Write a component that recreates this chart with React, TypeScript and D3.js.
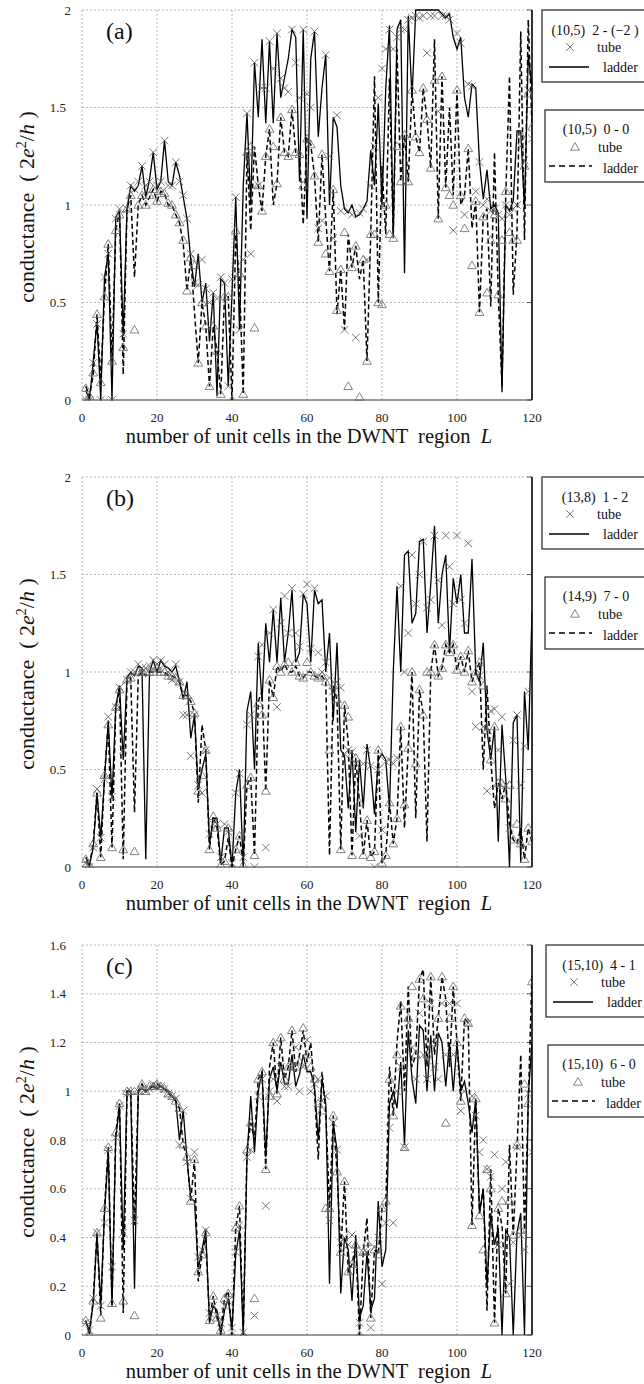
import React from 'react';
import * as d3 from 'd3';

// ---------- data ----------
const cells = d3.range(1, 121); // L = 1..120
const xTicks = [0, 20, 40, 60, 80, 100, 120];
const yTicksAB = [0, 0.5, 1, 1.5, 2];
const yTicksC = [0, 0.2, 0.4, 0.6, 0.8, 1, 1.2, 1.4, 1.6];
const panelLabels = ['(a)', '(b)', '(c)'];
const legendTitles = [
  ['(10,5)  2 - (\u22122 )', '(10,5)  0 - 0'],
  ['(13,8)  1 - 2', '(14,9)  7 - 0'],
  ['(15,10)  4 - 1', '(15,10)  6 - 0'],
];

// panel (a)
const aLadderSolid = [
  0.05, 0.0, 0.2, 0.4, 0.0, 0.63, 0.75, 0.0, 0.94, 0.97,
  0.33, 0.98, 1.1, 1.07, 1.1, 1.2, 1.04, 1.13, 1.27, 1.08,
  1.12, 1.33, 1.12, 1.1, 1.22, 1.15, 1.04, 0.93, 0.72, 0.58,
  0.75, 0.5, 0.6, 0.3, 0.55, 0.02, 0.62, 0.6, 0.07, 0.55,
  1.04, 0.36, 1.1, 1.47, 1.0, 1.73, 1.45, 1.85, 1.42, 1.84,
  1.42, 1.88, 1.55, 1.65, 1.75, 1.9, 1.86, 1.12, 1.9, 0.93,
  1.75, 1.89, 1.35, 1.6, 1.77, 1.0, 1.45, 1.4, 1.1, 0.98,
  0.96, 1.0, 0.94, 0.95, 0.98, 1.02, 1.28, 1.1, 1.52, 1.0,
  1.6, 1.92, 0.83, 1.9, 1.95, 0.65, 1.97, 1.55, 2.0, 2.0,
  2.0, 2.0, 2.0, 2.0, 2.0, 1.98, 1.96, 1.98, 1.86, 1.8,
  1.86, 1.55, 1.45, 1.62, 1.6, 1.22, 1.03, 1.18, 0.98, 1.0,
  0.96, 0.04, 1.0, 0.97, 1.02, 1.38, 1.38, 0.98, 1.77, 1.6,
];
const aTubeCross = [
  0.0, 0.0, 0.19, 0.39, 0.0, 0.63, 0.75, 0.0, 0.93, 0.98,
  0.34, 0.98, 1.1, 1.08, 1.12, 1.2, 1.1, 1.12, 1.27, 1.1,
  1.12, 1.33, 1.1, 1.1, 1.22, 1.12, 1.05, 0.93, 0.75, 0.6,
  0.59, 0.72, 0.57, 0.5, 0.55, 0.52, 0.63, 0.6, 0.07, 0.62,
  1.04, 0.36, 0.72, 1.47, 0.75, 1.73, 1.1, 1.6, 1.6, 1.84,
  1.7, 1.88, 1.65, 1.6, 1.58, 1.9, 1.73, 1.55, 1.9, 1.57,
  1.5, 1.89, 0.88, 0.92, 1.77, 1.25, 0.83, 1.46, 0.97, 0.36,
  0.97, 0.95, 0.32, 0.96, 0.98, 0.72, 1.1, 1.3, 1.55, 1.7,
  1.8, 1.9, 1.8, 1.86, 1.9, 1.9, 1.95, 1.96, 1.97, 1.96,
  1.97, 1.78, 1.97, 1.97, 1.48, 1.97, 1.97, 1.95, 0.87, 1.88,
  1.83, 0.95, 1.62, 1.61, 1.07, 1.22, 1.0, 1.03, 0.97, 0.98,
  0.95, 0.93, 1.0, 0.95, 0.98, 1.0, 1.3, 1.23, 1.59, 1.34,
];
const aLadderDashed = [
  0.07, 0.02, 0.13, 0.44, 0.1, 0.53, 0.8, 0.2, 0.87, 0.97,
  0.13, 0.98, 1.05, 0.63, 1.0, 1.05, 1.0, 1.04, 1.08, 1.02,
  1.07, 1.06, 1.0, 1.0, 0.95, 0.91, 0.8, 0.56, 0.73, 0.45,
  0.19, 0.5, 0.38, 0.07, 0.38, 0.25, 0.03, 0.53, 0.53, 0.0,
  0.85, 0.6, 0.03, 1.27, 0.87, 1.3, 1.1, 0.97, 1.25, 1.39,
  1.0, 1.11, 1.45, 1.27, 1.25, 1.49, 1.27, 1.26, 0.9, 1.34,
  1.31, 1.15, 0.81, 1.26, 0.93, 0.66, 1.08, 0.44, 0.67, 0.36,
  0.85, 0.68, 0.79, 0.62, 0.72, 0.2, 0.85, 1.66, 0.5, 1.2,
  0.85, 1.65, 0.85, 1.8, 1.12, 1.36, 1.12, 1.59, 1.35, 1.27,
  1.6, 1.44, 1.19, 1.85, 0.93, 1.66, 1.09, 1.5, 1.05, 1.59,
  1.0, 1.05, 1.29, 0.88, 1.02, 0.45, 0.94, 0.98, 0.48, 1.27,
  0.54, 0.07, 1.05, 1.66, 0.54, 0.86, 1.89, 0.82, 1.95, 1.4,
];
const aTubeTri = [
  0.06, 0.02, 0.14, 0.44, 0.09, 0.53, 0.8, 0.2, 0.87, 0.95,
  0.27, 0.98, 1.05, 0.36, 1.0, 1.05, 1.0, 1.05, 1.08, 1.02,
  1.07, 1.06, 1.01, 1.0, 0.95, 0.91, 0.82, 0.56, 0.73, 0.69,
  0.19, 0.5, 0.38, 0.07, 0.38, 0.25, 0.03, 0.53, 0.53, 0.0,
  0.87, 0.65, 0.03, 1.27, 1.3, 0.37, 1.1, 0.97, 1.25, 1.39,
  1.3, 1.11, 1.45, 1.27, 1.25, 1.49, 1.27, 1.26, 1.1, 1.34,
  1.31, 1.15, 0.81, 1.26, 0.75, 0.66, 1.08, 0.46, 0.67, 0.86,
  0.07, 0.68, 0.79, 0.015, 0.72, 0.2, 0.85, 0.85, 0.5, 0.49,
  1.0, 0.85, 0.83, 1.3, 1.12, 1.36, 1.12, 1.59, 1.35, 1.27,
  1.6, 1.44, 1.19, 1.64, 0.93, 1.66, 1.09, 1.05, 1.0, 1.59,
  1.05, 0.88, 1.29, 0.69, 1.02, 0.45, 0.94, 0.55, 0.82, 0.95,
  0.54, 0.82, 1.07, 0.86, 0.82, 0.82, 1.36, 1.2, 1.57, 1.4,
];

// panel (b)
const bLadderSolid = [
  0.03, 0.01, 0.1, 0.38, 0.15, 0.45, 0.75, 0.35, 0.82, 0.93,
  0.55, 0.97, 1.0, 0.98, 1.03, 1.02, 0.04, 1.0, 1.06, 1.0,
  1.06, 1.03, 1.02, 1.0, 1.03, 0.95, 0.86, 0.95, 0.66, 0.78,
  0.4, 0.5, 0.58, 0.12, 0.25, 0.25, 0.02, 0.2, 0.2, 0.0,
  0.38, 0.5, 0.0, 0.8, 0.9, 0.5, 1.15, 0.85, 1.25, 1.05,
  1.32, 1.05, 1.38, 1.05, 1.2, 1.42, 1.05, 1.1, 1.4, 1.35,
  1.05, 1.42, 1.35, 1.37, 1.0, 1.2, 0.75, 1.15, 0.6, 0.57,
  0.3, 0.6, 0.18, 0.55, 0.3, 0.63, 0.5, 0.27, 0.55, 0.58,
  0.55, 0.3, 1.0, 1.44, 1.0, 1.6, 1.62, 1.25, 1.3, 1.67,
  1.68, 1.2, 1.45, 1.75, 1.25, 1.5, 1.6, 1.1, 1.48, 1.35,
  1.5, 1.2, 1.2, 1.58, 1.0, 0.95, 1.15, 0.7, 0.55, 0.72,
  0.13, 0.73, 0.45, 0.0, 0.74, 0.78, 0.02, 0.9, 0.6, 1.31,
];
const bTubeCross = [
  0.02, 0.0, 0.1, 0.4, 0.15, 0.45, 0.77, 0.36, 0.82, 0.92,
  0.6, 0.96, 1.0, 1.0, 1.04, 1.02, 1.02, 1.03, 1.06, 1.04,
  1.06, 1.04, 1.0, 0.96, 1.04, 0.95, 0.78, 0.78, 0.57, 0.78,
  0.42, 0.38, 0.6, 0.17, 0.22, 0.22, 0.05, 0.22, 0.18, 0.02,
  0.38, 0.48, 0.05, 0.73, 0.78, 0.0, 1.08, 1.14, 0.1, 1.2,
  1.32, 0.82, 1.25, 1.39, 1.2, 1.43, 1.2, 1.13, 1.4, 1.45,
  1.12, 1.43, 1.1, 1.0, 1.05, 0.97, 0.9, 0.95, 0.92, 0.58,
  0.6, 0.59, 0.53, 0.16, 0.53, 0.6, 0.52, 0.0, 0.5, 0.19,
  0.54, 0.55, 0.53, 0.56, 1.44, 1.0, 1.2, 1.6, 1.35, 1.5,
  1.67, 1.33, 1.37, 1.7, 1.47, 1.24, 1.7, 1.54, 1.35, 1.7,
  1.37, 1.25, 1.66, 0.9, 0.72, 0.98, 0.72, 0.39, 0.8, 0.81,
  0.6, 0.77, 0.42, 0.2, 0.65, 0.78, 0.42, 0.62, 0.9, 0.9,
];
const bLadderDashed = [
  0.05, 0.01, 0.12, 0.38, 0.05, 0.47, 0.73, 0.1, 0.82, 0.91,
  0.04, 0.96, 0.97, 0.28, 0.98, 1.0, 0.98, 1.0, 1.0, 1.0,
  1.0, 1.0, 0.98, 0.98, 0.97, 0.95, 0.88, 0.88, 0.85, 0.79,
  0.33, 0.73, 0.6, 0.09, 0.26, 0.2, 0.01, 0.03, 0.15, 0.0,
  0.09, 0.16, 0.01, 0.42, 0.46, 0.06, 0.85, 0.9, 0.39, 0.96,
  0.87, 1.03, 1.0, 1.04, 1.0, 1.0, 1.03, 0.98, 0.97, 1.0,
  1.0, 0.98, 0.97, 0.98, 0.95, 0.06, 0.93, 0.86, 0.09, 0.83,
  0.64, 0.06, 0.56, 0.33, 0.06, 0.24, 0.05, 0.08, 0.6, 0.02,
  0.06, 0.33, 0.12, 0.25, 0.72, 0.2, 0.61, 1.0, 0.25, 0.91,
  0.78, 0.13, 1.0, 1.14, 0.98, 1.02, 1.14, 1.1, 1.14, 1.01,
  1.08, 1.0, 1.11, 0.95, 1.0, 1.05, 0.5, 0.93, 0.55, 0.3,
  0.43, 0.35, 0.43, 0.22, 0.14, 0.12, 0.2, 0.04, 0.2, 0.13,
];
const bTubeTri = [
  0.04, 0.01, 0.12, 0.38, 0.05, 0.47, 0.73, 0.1, 0.82, 0.91,
  0.09, 0.96, 0.97, 0.08, 1.0, 1.0, 1.0, 1.0, 1.0, 1.02,
  1.0, 1.0, 0.98, 0.98, 0.97, 0.95, 0.88, 0.88, 0.85, 0.79,
  0.39, 0.47, 0.6, 0.09, 0.26, 0.2, 0.01, 0.03, 0.2, 0.0,
  0.09, 0.16, 0.01, 0.42, 0.46, 0.06, 0.84, 0.78, 0.39, 0.96,
  0.87, 1.03, 1.0, 1.04, 1.05, 1.0, 1.05, 0.98, 0.97, 1.05,
  1.0, 0.98, 0.97, 0.98, 0.95, 0.6, 0.93, 0.86, 0.09, 0.83,
  0.77, 0.06, 0.56, 0.33, 0.06, 0.24, 0.05, 0.08, 0.6, 0.02,
  0.06, 0.33, 0.12, 0.25, 0.72, 0.32, 0.61, 1.0, 0.53, 0.91,
  0.78, 1.0, 1.0, 1.14, 0.98, 1.02, 1.14, 1.1, 1.14, 1.01,
  1.08, 1.0, 1.11, 0.95, 1.0, 1.05, 0.93, 0.7, 0.55, 0.72,
  0.43, 0.43, 0.35, 0.42, 0.14, 0.22, 0.12, 0.04, 0.2, 0.13,
];

// panel (c)
const cLadderSolid = [
  0.05, 0.02, 0.13, 0.41, 0.13, 0.5, 0.75, 0.12, 0.81, 0.94,
  0.35, 1.0, 1.0, 0.19, 1.0, 1.01, 1.0, 1.01, 1.02, 1.01,
  1.02, 1.01, 1.0, 0.98, 0.96, 0.8, 0.92, 0.72, 0.56, 0.55,
  0.27, 0.35, 0.43, 0.05, 0.12, 0.1, 0.0, 0.1, 0.15, 0.02,
  0.33, 0.43, 0.0, 0.73, 0.98, 0.75, 1.0, 1.08, 0.73, 1.05,
  1.1, 1.0, 1.12, 1.03, 1.03, 1.15, 1.02, 1.07, 1.15, 1.08,
  1.08, 1.02, 0.8, 1.05, 0.95, 0.21, 0.87, 0.76, 0.17, 0.4,
  0.35, 0.14, 0.41, 0.07, 0.12, 0.34, 0.1, 0.15, 0.55, 0.28,
  0.35, 0.95, 1.0, 0.93, 1.12, 0.78, 1.25, 1.05, 0.95, 1.27,
  1.25, 1.0, 1.23, 1.0, 1.24, 1.2, 1.02, 1.2, 1.0, 1.2,
  1.0, 1.04, 0.95, 0.83, 0.97, 0.5, 0.6, 0.2, 0.5, 0.37,
  0.44, 0.0, 0.43, 0.4, 0.0, 0.42, 0.5, 0.0, 0.98, 1.2,
];
const cTubeCross = [
  0.05, 0.02, 0.15, 0.42, 0.12, 0.46, 0.76, 0.28, 0.81, 0.94,
  0.42, 0.99, 1.0, 0.47, 1.0, 1.01, 1.0, 1.01, 1.03, 1.02,
  1.02, 1.01, 0.99, 0.98, 0.97, 0.78, 0.92, 0.71, 0.56, 0.75,
  0.32, 0.35, 0.43, 0.09, 0.12, 0.08, 0.05, 0.12, 0.14, 0.03,
  0.34, 0.45, 0.01, 0.73, 0.76, 0.08, 0.98, 1.05, 0.53, 1.0,
  1.05, 0.96, 1.1, 1.02, 1.02, 1.1, 1.18, 1.0, 1.1, 1.21,
  1.0, 1.03, 1.05, 0.96, 0.98, 0.47, 0.87, 0.76, 0.38, 0.4,
  0.37, 0.41, 0.35, 0.05, 0.34, 0.34, 0.03, 0.36, 0.4, 0.21,
  0.46, 0.85, 0.46, 1.0, 1.1, 0.77, 1.28, 1.18, 1.05, 1.32,
  1.15, 1.05, 1.36, 1.1, 1.05, 1.36, 1.15, 1.36, 1.15, 1.36,
  0.92, 1.0, 1.28, 0.98, 0.9, 0.75, 0.8, 0.68, 0.65, 0.74,
  0.37, 0.6, 0.71, 0.21, 0.38, 0.77, 0.41, 0.35, 0.99, 0.75,
];
const cLadderDashed = [
  0.06, 0.0, 0.15, 0.42, 0.08, 0.52, 0.77, 0.12, 0.83, 0.95,
  0.09, 1.0, 1.0, 0.45, 1.0, 1.03, 1.0, 1.02, 1.02, 1.03,
  1.02, 1.01, 0.99, 0.98, 0.96, 0.93, 0.78, 0.73, 0.55, 0.72,
  0.22, 0.33, 0.4, 0.06, 0.16, 0.07, 0.02, 0.15, 0.18, 0.0,
  0.44, 0.53, 0.0, 0.76, 0.87, 0.8, 1.05, 1.08, 0.68, 1.1,
  1.2, 0.99, 1.22, 1.05, 1.1, 1.25, 1.08, 1.15, 1.25, 1.12,
  1.2, 1.0, 0.72, 1.08, 0.92, 0.52, 0.9, 0.67, 0.34, 0.63,
  0.26, 0.29, 0.37, 0.0, 0.34, 0.48, 0.07, 0.35, 0.33, 0.52,
  0.53, 1.1, 0.9, 1.2, 1.37, 1.0, 1.43, 1.1, 1.15, 1.46,
  1.5, 1.1, 1.47, 1.15, 1.3, 1.47, 1.38, 1.1, 1.43, 1.2,
  0.96, 1.3, 1.28, 0.45, 0.97, 0.5, 0.6, 0.1, 0.68, 0.05,
  0.52, 0.45, 0.17, 0.78, 0.41, 0.76, 1.15, 0.43, 0.95, 1.48,
];
const cTubeTri = [
  0.06, 0.0, 0.14, 0.42, 0.07, 0.52, 0.77, 0.13, 0.83, 0.95,
  0.14, 1.0, 1.0, 0.08, 1.0, 1.03, 1.0, 1.02, 1.02, 1.03,
  1.02, 1.01, 0.99, 0.98, 0.96, 0.93, 0.78, 0.73, 0.55, 0.72,
  0.26, 0.33, 0.42, 0.06, 0.16, 0.07, 0.02, 0.15, 0.17, 0.0,
  0.44, 0.53, 0.0, 0.76, 0.87, 0.15, 1.05, 1.08, 0.68, 0.98,
  1.2, 0.99, 1.22, 1.05, 1.1, 1.25, 1.1, 1.12, 1.26, 1.15,
  1.1, 1.05, 0.95, 0.92, 0.52, 0.52, 0.9, 0.67, 0.34, 0.63,
  0.26, 0.29, 0.37, 0.0, 0.34, 0.38, 0.07, 0.35, 0.33, 0.52,
  0.55, 1.05, 0.9, 1.15, 1.35, 0.77, 1.3, 1.43, 1.15, 1.46,
  1.38, 1.15, 1.47, 1.2, 1.3, 1.47, 0.87, 1.3, 1.43, 1.2,
  0.96, 1.3, 1.28, 0.45, 0.97, 0.49, 0.35, 0.68, 0.6, 0.05,
  0.52, 0.55, 0.17, 0.55, 0.41, 0.78, 0.43, 1.03, 0.95, 1.45,
];

// ---------- layout ----------
const FONT = '"Liberation Serif", "Times New Roman", "DejaVu Serif", serif';
const LEFT = 82;
const RIGHT = 532;
const PH = 390;

const panels = [
  { top: 10, yMax: 2, yTicks: yTicksAB, solid: aLadderSolid, cross: aTubeCross, dashed: aLadderDashed, tri: aTubeTri, box1x: 542, box2x: 545 },
  { top: 477, yMax: 2, yTicks: yTicksAB, solid: bLadderSolid, cross: bTubeCross, dashed: bLadderDashed, tri: bTubeTri, box1x: 542, box2x: 545 },
  { top: 945, yMax: 1.6, yTicks: yTicksC, solid: cLadderSolid, cross: cTubeCross, dashed: cLadderDashed, tri: cTubeTri, box1x: 546, box2x: 548 },
];

const CROSS = 'M-3.8,-3.8L3.8,3.8M-3.8,3.8L3.8,-3.8';
const TRI = 'M0,-4.4L4.4,3.2L-4.4,3.2Z';

function Panel({ p, idx }: { p: any; idx: number }) {
  const top = p.top;
  const bottom = top + PH;
  const x = d3.scaleLinear().domain([0, 120]).range([LEFT, RIGHT]);
  const y = d3.scaleLinear().domain([0, p.yMax]).range([bottom, top]);
  const line = d3
    .line<number>()
    .x((_d, i) => x(cells[i]))
    .y((d) => y(d));
  const clipId = `clip-${idx}`;
  const b1 = p.box1x;
  const b2 = p.box2x;
  const t2 = top + 100;
  const txt = { fontFamily: FONT };
  return (
    <g style={txt}>
      <defs>
        <clipPath id={clipId}>
          <rect x={LEFT} y={top - 1} width={RIGHT - LEFT} height={PH + 2} />
        </clipPath>
      </defs>
      {/* grid */}
      {xTicks.slice(0, -1).map((t) => (
        <line key={'gx' + t} x1={x(t)} x2={x(t)} y1={top} y2={bottom} stroke="#999" strokeWidth={0.7} strokeDasharray="2,2" />
      ))}
      {p.yTicks.slice(1).map((t: number) => (
        <line key={'gy' + t} x1={LEFT} x2={RIGHT} y1={y(t)} y2={y(t)} stroke="#999" strokeWidth={0.7} strokeDasharray="2,2" />
      ))}
      {/* frame */}
      <line x1={LEFT} x2={RIGHT} y1={bottom} y2={bottom} stroke="#333" strokeWidth={1} />
      <line x1={RIGHT} x2={RIGHT} y1={top} y2={bottom} stroke="#000" strokeWidth={1.6} />
      {p.yTicks.map((t: number) => (
        <line key={'rt' + t} x1={RIGHT - 5} x2={RIGHT} y1={y(t)} y2={y(t)} stroke="#333" strokeWidth={0.8} />
      ))}
      {/* series */}
      <g clipPath={`url(#${clipId})`}>
        <path d={line(p.dashed) || ''} fill="none" stroke="#000" strokeWidth={1.5} strokeDasharray="5,3" />
        <path d={line(p.solid) || ''} fill="none" stroke="#000" strokeWidth={1.3} />
        {p.cross.map((v: number, i: number) => (
          <path key={'x' + i} d={CROSS} transform={`translate(${x(cells[i])},${y(v)})`} fill="none" stroke="#555" strokeWidth={0.8} />
        ))}
        {p.tri.map((v: number, i: number) => (
          <path key={'t' + i} d={TRI} transform={`translate(${x(cells[i])},${y(v)})`} fill="none" stroke="#666" strokeWidth={0.8} />
        ))}
      </g>
      {/* tick labels */}
      {xTicks.map((t) => (
        <text key={'xl' + t} x={x(t)} y={bottom + 22} textAnchor="middle" fontSize={13} fill="#222" style={txt}>
          {t}
        </text>
      ))}
      {p.yTicks.map((t: number) => {
        const s = String(t);
        return (
          <text key={'yl' + t} x={s.includes('.') ? 66 : 71} y={y(t) + 4.5} textAnchor="end" fontSize={13} fill="#222" style={txt}>
            {s}
          </text>
        );
      })}
      {/* axis titles */}
      <text x={(LEFT + RIGHT) / 2 + 2} y={bottom + 43} textAnchor="middle" fontSize={20.5} fill="#111" xmlSpace="preserve" style={txt}>
        number of unit cells in the DWNT  region  <tspan fontStyle="italic">L</tspan>
      </text>
      <text transform={`translate(34,${top + PH / 2 + 2}) rotate(-90)`} textAnchor="middle" fontSize={22} fill="#111" xmlSpace="preserve" style={txt}>
        conductance  ( 2<tspan fontStyle="italic">e</tspan>
        <tspan dy={-8} fontSize={14}>2</tspan>
        <tspan dy={8}>/</tspan>
        <tspan fontStyle="italic">h</tspan> )
      </text>
      {/* panel label */}
      <text x={106} y={top + 29} fontSize={24} fill="#111" style={txt}>
        {panelLabels[idx]}
      </text>
      {/* legend box 1 */}
      <rect x={b1} y={top} width={130} height={72} fill="#fff" stroke="#333" strokeWidth={1.3} />
      <text x={b1 + 53} y={top + 25} textAnchor="middle" fontSize={14} fill="#111" xmlSpace="preserve" style={txt}>
        {legendTitles[idx][0]}
      </text>
      <path d={CROSS} transform={`translate(${b1 + 28},${top + 37})`} fill="none" stroke="#555" strokeWidth={0.8} />
      <text x={b1 + 55} y={top + 42} fontSize={14} fill="#111" style={txt}>tube</text>
      <line x1={b1 + 7} x2={b1 + 47} y1={top + 57} y2={top + 57} stroke="#000" strokeWidth={1.3} />
      <text x={b1 + 61} y={top + 62} fontSize={14} fill="#111" style={txt}>ladder</text>
      {/* legend box 2 */}
      <rect x={b2} y={t2} width={130} height={72} fill="#fff" stroke="#333" strokeWidth={1.3} />
      <text x={b2 + 51} y={t2 + 24} textAnchor="middle" fontSize={14} fill="#111" xmlSpace="preserve" style={txt}>
        {legendTitles[idx][1]}
      </text>
      <path d={TRI} transform={`translate(${b2 + 30},${t2 + 37})`} fill="none" stroke="#666" strokeWidth={0.8} />
      <text x={b2 + 53} y={t2 + 42} fontSize={14} fill="#111" style={txt}>tube</text>
      <line x1={b2 + 4} x2={b2 + 47} y1={t2 + 56} y2={t2 + 56} stroke="#000" strokeWidth={1.3} strokeDasharray="6,4" />
      <text x={b2 + 58} y={t2 + 63} fontSize={14} fill="#111" style={txt}>ladder</text>
    </g>
  );
}

export default function App() {
  return (
    <div style={{ position: 'absolute', left: 0, top: 0 }}>
      <svg width={644} height={1384} viewBox="0 0 644 1384" style={{ display: 'block', background: '#fff', fontFamily: FONT }}>
        {panels.map((p, i) => (
          <Panel key={i} p={p} idx={i} />
        ))}
      </svg>
    </div>
  );
}
